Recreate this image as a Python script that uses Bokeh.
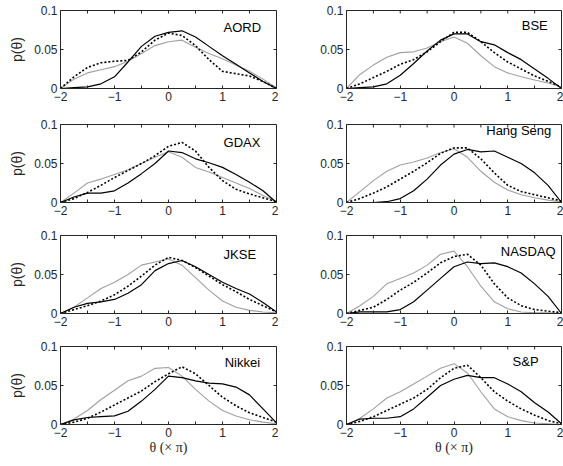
from bokeh.plotting import figure
from bokeh.layouts import column, row
from bokeh.models import FixedTicker, LinearAxis, Range1d
from bokeh.core.properties import value
from bokeh.embed import file_html
from bokeh.resources import INLINE

theta = [-2, -1.75, -1.5, -1.25, -1, -0.75, -0.5, -0.25, 0, 0.25, 0.5, 0.75, 1, 1.25, 1.5, 1.75, 2]

names = ["AORD", "BSE", "GDAX", "Hang Seng", "JKSE", "NASDAQ", "Nikkei", "S&P"]

solid = {
    "AORD": [0, 0.001, 0.002, 0.006, 0.015, 0.034, 0.054, 0.067, 0.072, 0.074, 0.066, 0.054, 0.042, 0.031, 0.020, 0.009, 0.0],
    "BSE": [0, 0.001, 0.002, 0.006, 0.017, 0.032, 0.048, 0.062, 0.070, 0.070, 0.060, 0.056, 0.046, 0.037, 0.025, 0.013, 0.0],
    "GDAX": [0, 0.007, 0.012, 0.012, 0.015, 0.025, 0.037, 0.050, 0.066, 0.064, 0.056, 0.051, 0.045, 0.036, 0.026, 0.015, 0.0],
    "Hang Seng": [0, 0.0, 0.0, 0.001, 0.005, 0.015, 0.030, 0.048, 0.062, 0.068, 0.065, 0.066, 0.058, 0.050, 0.038, 0.022, 0.0],
    "JKSE": [0, 0.008, 0.013, 0.015, 0.018, 0.026, 0.037, 0.055, 0.064, 0.068, 0.060, 0.050, 0.040, 0.032, 0.025, 0.014, 0.002],
    "NASDAQ": [0, 0.002, 0.002, 0.002, 0.005, 0.015, 0.030, 0.045, 0.060, 0.066, 0.064, 0.065, 0.060, 0.052, 0.038, 0.022, 0.0],
    "Nikkei": [0, 0.006, 0.009, 0.010, 0.011, 0.017, 0.030, 0.045, 0.062, 0.060, 0.056, 0.053, 0.052, 0.048, 0.038, 0.020, 0.002],
    "S&P": [0, 0.007, 0.008, 0.008, 0.010, 0.020, 0.035, 0.050, 0.058, 0.063, 0.060, 0.060, 0.052, 0.042, 0.028, 0.016, 0.001],
}

dotted = {
    "AORD": [0, 0.015, 0.027, 0.033, 0.035, 0.036, 0.047, 0.062, 0.071, 0.068, 0.055, 0.037, 0.022, 0.019, 0.016, 0.009, 0.0],
    "BSE": [0, 0.006, 0.014, 0.022, 0.031, 0.037, 0.047, 0.060, 0.072, 0.072, 0.060, 0.046, 0.034, 0.025, 0.016, 0.009, 0.002],
    "GDAX": [0, 0.005, 0.013, 0.022, 0.032, 0.041, 0.050, 0.060, 0.072, 0.077, 0.066, 0.045, 0.028, 0.017, 0.011, 0.006, 0.001],
    "Hang Seng": [0, 0.005, 0.012, 0.020, 0.030, 0.040, 0.051, 0.063, 0.070, 0.070, 0.056, 0.038, 0.022, 0.014, 0.010, 0.006, 0.002],
    "JKSE": [0, 0.005, 0.010, 0.016, 0.024, 0.035, 0.048, 0.062, 0.072, 0.068, 0.059, 0.048, 0.037, 0.028, 0.018, 0.010, 0.002],
    "NASDAQ": [0, 0.004, 0.008, 0.018, 0.030, 0.040, 0.052, 0.065, 0.073, 0.076, 0.062, 0.038, 0.020, 0.010, 0.005, 0.003, 0.001],
    "Nikkei": [0, 0.003, 0.008, 0.016, 0.025, 0.034, 0.043, 0.055, 0.065, 0.074, 0.065, 0.050, 0.035, 0.024, 0.015, 0.009, 0.003],
    "S&P": [0, 0.004, 0.010, 0.018, 0.026, 0.034, 0.045, 0.060, 0.072, 0.076, 0.060, 0.042, 0.030, 0.020, 0.012, 0.005, 0.001],
}

gray = {
    "AORD": [0, 0.012, 0.020, 0.024, 0.028, 0.035, 0.045, 0.055, 0.060, 0.062, 0.053, 0.045, 0.038, 0.030, 0.022, 0.012, 0.001],
    "BSE": [0, 0.018, 0.030, 0.040, 0.046, 0.047, 0.052, 0.060, 0.066, 0.058, 0.042, 0.028, 0.020, 0.015, 0.011, 0.007, 0.002],
    "GDAX": [0, 0.012, 0.025, 0.030, 0.036, 0.042, 0.050, 0.058, 0.065, 0.058, 0.045, 0.039, 0.032, 0.025, 0.018, 0.009, 0.001],
    "Hang Seng": [0, 0.014, 0.028, 0.040, 0.048, 0.052, 0.057, 0.064, 0.069, 0.058, 0.040, 0.026, 0.016, 0.010, 0.006, 0.003, 0.001],
    "JKSE": [0, 0.008, 0.020, 0.032, 0.040, 0.050, 0.062, 0.066, 0.070, 0.062, 0.046, 0.030, 0.016, 0.008, 0.004, 0.002, 0.001],
    "NASDAQ": [0, 0.010, 0.022, 0.038, 0.045, 0.052, 0.062, 0.076, 0.080, 0.060, 0.035, 0.015, 0.006, 0.002, 0.001, 0.001, 0.0],
    "Nikkei": [0, 0.007, 0.018, 0.032, 0.044, 0.056, 0.062, 0.072, 0.073, 0.062, 0.045, 0.030, 0.018, 0.011, 0.006, 0.003, 0.001],
    "S&P": [0, 0.008, 0.020, 0.034, 0.042, 0.052, 0.062, 0.072, 0.078, 0.066, 0.042, 0.020, 0.010, 0.005, 0.002, 0.001, 0.0],
}

x_ticks = [-2, -1, 0, 1, 2]
x_minor_ticks = [-1.5, -0.5, 0.5, 1.5]
y_ticks = [0, 0.05, 0.1]
y_tick_labels = {0: "0", 0.05: "0.05", 0.1: "0.1"}

# label anchor (left edge, vertical centre) in data units
label_pos = {
    "AORD": (1.02, 0.078), "BSE": (1.26, 0.081), "GDAX": (1.02, 0.077),
    "Hang Seng": (0.6, 0.092), "JKSE": (1.02, 0.076), "NASDAQ": (0.87, 0.080),
    "Nikkei": (1.04, 0.079), "S&P": (1.09, 0.081),
}

AX = "#262626"
FONT = "Liberation Sans"
TICK_FS = "12px"
TICK_PX = 3
FRAME_H = 78

row_specs = [(113, 10, 25), (113, 11, 24), (112, 9, 25), (122, 8, 36)]
col_specs = [(278, 60, 2), (285, 68, 2)]


def style_axis(ax):
    ax.axis_line_color = AX
    ax.major_tick_line_color = AX
    ax.minor_tick_line_color = AX
    ax.major_tick_in = TICK_PX
    ax.major_tick_out = 0
    ax.minor_tick_in = TICK_PX
    ax.minor_tick_out = 0
    ax.major_label_text_color = AX
    ax.major_label_text_font = FONT
    ax.major_label_text_font_size = TICK_FS
    ax.major_label_standoff = 3


rows = []
for r in range(4):
    h, bt, bb = row_specs[r]
    cells = []
    for c in range(2):
        w, bl, br = col_specs[c]
        frame_w = w - bl - br
        name = names[r * 2 + c]
        p = figure(width=w, height=h, output_backend="svg", toolbar_location=None,
                   sizing_mode="fixed",
                   x_range=Range1d(-2, 2), y_range=Range1d(0, 0.1),
                   min_border_left=bl, min_border_right=br,
                   min_border_top=bt, min_border_bottom=bb,
                   x_axis_location=None, y_axis_location=None)
        p.background_fill_color = "white"
        p.border_fill_color = "white"
        p.outline_line_color = AX
        p.outline_line_width = 1
        p.grid.visible = False

        xb = LinearAxis(ticker=FixedTicker(ticks=x_ticks, minor_ticks=x_minor_ticks))
        style_axis(xb)
        yl = LinearAxis(ticker=FixedTicker(ticks=y_ticks), major_label_overrides=y_tick_labels)
        style_axis(yl)
        if c == 0:
            yl.axis_label = "p(θ)"
            yl.axis_label_text_font = FONT
            yl.axis_label_text_font_size = "14px"
            yl.axis_label_text_font_style = "normal"
            yl.axis_label_text_color = AX
            yl.axis_label_standoff = 6
        if r == 3:
            xb.axis_label = "θ (× π)"
            xb.axis_label_text_font = "Liberation Serif"
            xb.axis_label_text_font_size = "14px"
            xb.axis_label_text_font_style = "normal"
            xb.axis_label_text_color = AX
            xb.axis_label_standoff = 0
        p.add_layout(xb, "below")
        p.add_layout(yl, "left")

        # inward ticks on the top and right edges of the box
        top_ticks = sorted(x_ticks + x_minor_ticks)
        dy = TICK_PX / FRAME_H * 0.1
        p.segment(x0=top_ticks, x1=top_ticks, y0=[0.1] * len(top_ticks),
                  y1=[0.1 - dy] * len(top_ticks), line_color=AX, line_width=1)
        dx = TICK_PX / frame_w * 4
        p.segment(x0=[2] * len(y_ticks), x1=[2 - dx] * len(y_ticks), y0=y_ticks,
                  y1=y_ticks, line_color=AX, line_width=1)

        p.line(theta, gray[name], line_color="#a0a0a0", line_width=1.1)
        p.line(theta, solid[name], line_color="black", line_width=1.2)
        p.line(theta, dotted[name], line_color="black", line_width=1.6, line_dash="2 2")

        lx, ly = label_pos[name]
        p.text(x=[lx], y=[ly], text=[name], text_font=value(FONT),
               text_font_size=value("13px"), text_color="black",
               text_align="left", text_baseline="middle")
        cells.append(p)
    rows.append(row(*cells, sizing_mode="fixed", spacing=0))

layout = column(*rows, sizing_mode="fixed", spacing=0)
open("out.html", "w").write(file_html(layout, INLINE))
